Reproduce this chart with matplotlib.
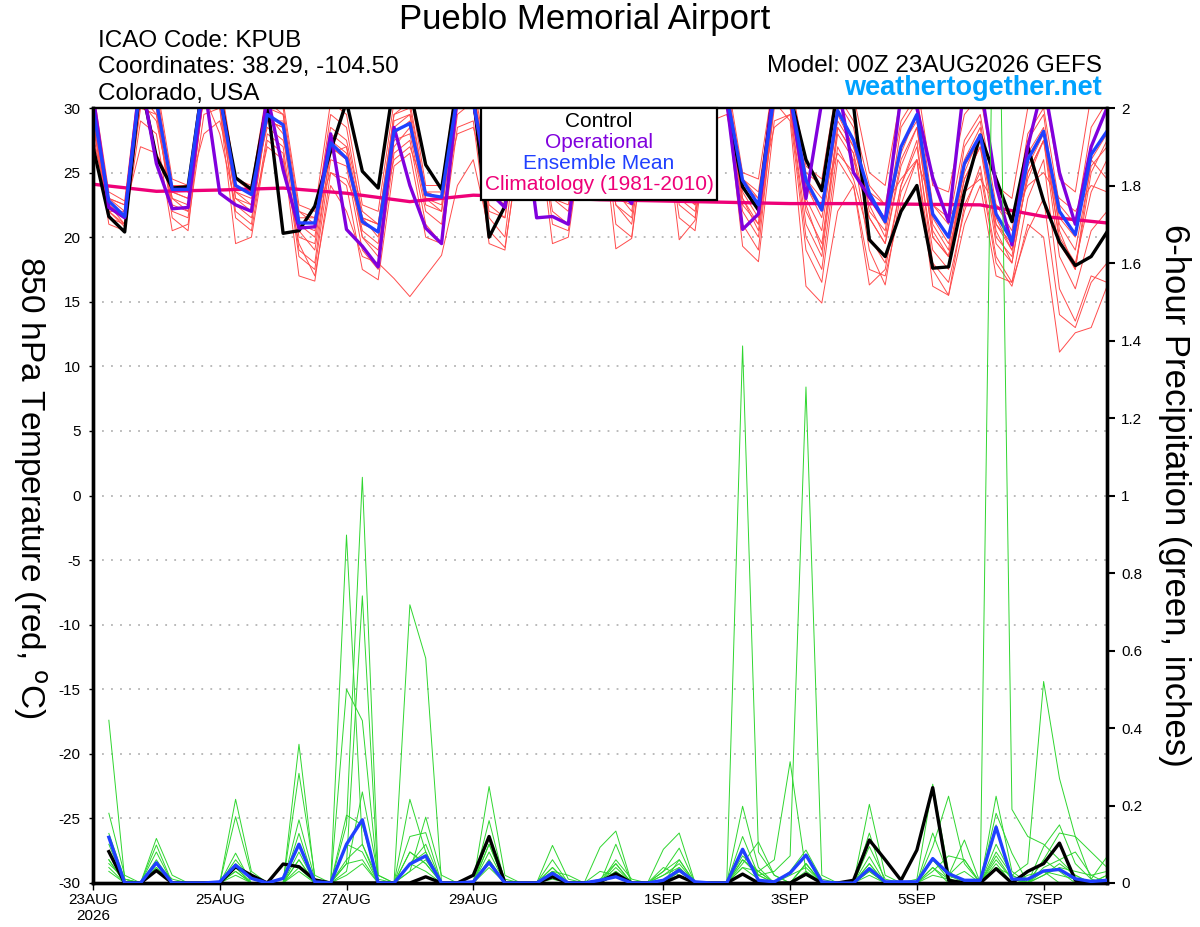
"""GEFS meteogram: 850 hPa temperature and 6-hour precipitation, Pueblo (KPUB)."""

import numpy as np
import matplotlib
matplotlib.use('Agg')  # no display
import matplotlib.pyplot as plt
from matplotlib.patches import Rectangle

plt.rcParams['font.family'] = ['Liberation Sans', 'DejaVu Sans']
plt.rcParams['axes.unicode_minus'] = False

# forecast hours from 00Z 23AUG2026
hours_t = np.arange(0, 385, 6)
hours_p = np.arange(6, 385, 6)
hours_clim = np.arange(0, 385, 24)

date_ticks = [0, 48, 96, 144, 216, 264, 312, 360]
date_labels = ['23AUG\n2026', '25AUG', '27AUG', '29AUG', '1SEP', '3SEP', '5SEP', '7SEP']

# 850 hPa temperature (C)
control_t = [27.0,
             21.6, 20.4, 32.0, 26.2, 23.8, 23.9, 32.5, 31.0,
             24.6, 23.7, 30.5, 20.3, 20.5, 22.4, 26.7, 30.5,
             25.1, 23.8, 32.0, 31.5, 25.6, 23.7, 32.0, 31.0,
             20.0, 22.4, 31.0, 32.0, 25.0, 24.5, 32.0, 31.5,
             25.5, 24.5, 32.0, 31.0, 25.0, 24.0, 31.0, 30.5,
             23.9, 22.1, 32.0, 31.0, 26.0, 23.6, 31.5, 30.2,
             19.8, 18.5, 22.0, 24.0, 17.6, 17.7, 23.5, 27.9,
             24.5, 21.2, 27.0, 22.8, 19.6, 17.8, 18.5, 20.4]
oper_t = [31.0,
          22.3, 21.5, 32.5, 25.7, 22.2, 22.3, 32.0, 23.4,
          22.5, 22.0, 31.0, 25.2, 20.7, 20.8, 28.0, 20.6,
          19.3, 17.7, 28.5, 24.0, 20.7, 19.5, 31.0, 30.5,
          23.5, 22.3, 31.0, 21.5, 21.6, 21.0, 30.5, 31.0,
          24.0, 22.6, 31.0, 31.0, 24.0, 23.5, 31.0, 30.5,
          20.6, 21.8, 32.0, 31.0, 23.0, 30.5, 32.0, 25.0,
          23.1, 21.3, 31.0, 30.0, 24.6, 21.2, 32.0, 32.0,
          24.0, 19.4, 27.0, 32.0, 25.0, 21.0, 27.0, 30.0]
mean_t = [30.0,
          22.8, 21.6, 32.0, 30.5, 23.7, 23.7, 32.5, 31.0,
          24.0, 23.3, 29.5, 28.7, 21.1, 21.1, 27.3, 26.1,
          21.2, 20.4, 28.2, 28.8, 23.3, 23.1, 31.0, 30.5,
          24.0, 23.6, 30.5, 31.0, 24.5, 24.0, 30.5, 31.0,
          24.5, 23.8, 30.5, 30.5, 24.5, 23.8, 30.5, 31.0,
          24.4, 22.5, 31.0, 31.0, 24.4, 22.1, 29.8, 27.5,
          23.4, 21.2, 27.0, 29.5, 21.8, 20.0, 25.7, 27.9,
          21.8, 19.7, 26.0, 28.2, 22.0, 20.2, 26.4, 28.2]
clim_t = [24.1, 23.55, 23.65, 23.8, 23.4, 22.75, 23.25, 23.1, 22.9,
          22.8, 22.7, 22.6, 22.6, 22.55, 22.5, 21.6, 21.1]

ens_t01 = [29.0,
           21.0, 20.5, 31.5, 30.0, 22.0, 21.5, 31.0, 30.5,
           21.5, 20.5, 28.0, 27.0, 18.5, 17.5, 26.0, 25.5,
           19.0, 17.5, 26.5, 27.5, 21.0, 19.5, 29.5, 30.5,
           21.5, 20.0, 30.0, 30.5, 21.0, 20.5, 29.0, 31.0,
           21.0, 20.0, 29.5, 30.0, 21.5, 20.5, 30.0, 30.5,
           21.0, 19.0, 30.5, 30.0, 20.0, 17.5, 27.0, 24.5,
           20.0, 18.0, 24.0, 27.5, 18.0, 16.5, 22.0, 25.5,
           18.5, 16.5, 23.0, 26.0, 16.0, 13.5, 17.0, 16.5]
ens_t02 = [31.5,
           23.5, 22.8, 33.0, 32.0, 24.5, 24.0, 33.5, 32.5,
           24.5, 24.0, 31.5, 30.5, 22.5, 22.0, 30.5, 29.5,
           22.5, 22.0, 30.5, 31.5, 24.0, 24.0, 32.5, 32.0,
           25.0, 24.5, 32.0, 32.5, 25.5, 25.0, 32.0, 32.5,
           25.5, 25.0, 32.5, 32.0, 25.5, 24.5, 32.0, 32.5,
           25.0, 24.5, 32.5, 32.5, 25.5, 24.5, 32.0, 31.0,
           25.0, 24.0, 31.0, 32.0, 24.0, 23.5, 29.5, 31.0,
           24.0, 23.0, 30.0, 31.5, 24.5, 23.5, 31.0, 31.5]
ens_t03 = [30.0,
           22.0, 21.0, 31.0, 29.5, 23.0, 22.5, 32.0, 30.5,
           23.0, 22.0, 29.0, 28.5, 20.0, 19.5, 27.5, 26.5,
           20.5, 19.5, 28.5, 29.5, 23.0, 22.0, 31.0, 30.0,
           23.5, 22.5, 30.5, 31.0, 23.5, 23.0, 31.0, 31.5,
           23.0, 22.5, 31.0, 31.0, 24.0, 23.0, 31.0, 31.5,
           23.5, 21.5, 31.5, 31.0, 23.0, 20.5, 29.5, 27.0,
           22.5, 20.0, 27.0, 29.0, 20.5, 18.5, 25.5, 27.5,
           20.5, 18.0, 25.0, 27.5, 21.0, 19.0, 25.5, 27.0]
ens_t04 = [28.5,
           22.5, 21.5, 30.5, 29.0, 23.0, 22.0, 31.0, 28.0,
           22.5, 21.5, 27.0, 26.0, 19.5, 17.0, 24.0, 22.0,
           18.5, 18.0, 16.8, 15.4, 17.0, 18.6, 24.0, 26.0,
           20.5, 19.2, 27.5, 29.5, 22.0, 21.0, 29.0, 30.5,
           22.5, 21.0, 29.5, 30.5, 23.0, 22.0, 30.5, 31.0,
           22.0, 20.0, 30.0, 30.0, 21.0, 18.5, 28.0, 26.0,
           21.5, 19.5, 26.0, 28.5, 20.0, 18.5, 24.5, 27.0,
           21.0, 19.0, 24.5, 27.5, 20.0, 18.0, 23.5, 26.0]
ens_t05 = [27.5,
           23.0, 22.0, 27.0, 26.5, 24.0, 23.5, 28.0, 29.0,
           24.0, 23.5, 28.5, 27.5, 22.0, 21.5, 25.0, 24.5,
           21.5, 21.0, 26.0, 27.0, 23.5, 23.0, 28.0, 28.5,
           24.0, 23.5, 28.5, 29.0, 24.5, 24.0, 28.0, 29.0,
           24.0, 23.5, 28.5, 29.5, 24.5, 23.5, 29.0, 29.5,
           24.0, 23.0, 28.5, 29.5, 24.5, 23.0, 26.5, 25.0,
           23.5, 22.5, 24.5, 26.0, 22.5, 21.5, 23.5, 24.5,
           22.5, 21.5, 24.0, 25.0, 23.0, 22.0, 24.0, 23.5]
ens_t06 = [30.5,
           22.5, 21.0, 32.0, 31.0, 23.5, 23.0, 32.0, 31.5,
           23.5, 22.5, 30.0, 29.5, 21.0, 20.0, 28.0, 27.0,
           21.5, 20.0, 29.0, 29.5, 23.0, 22.5, 31.5, 31.0,
           23.5, 23.0, 31.0, 31.5, 24.0, 23.0, 31.5, 31.5,
           24.0, 23.0, 31.0, 31.0, 24.0, 22.5, 31.0, 31.0,
           23.0, 21.0, 30.5, 29.0, 16.2, 14.9, 22.0, 24.0,
           16.3, 17.5, 24.0, 27.0, 19.0, 17.5, 26.0, 28.5,
           20.0, 18.5, 26.5, 28.5, 19.5, 17.5, 25.0, 27.5]
ens_t07 = [29.5,
           21.5, 21.0, 30.0, 29.5, 22.5, 22.0, 31.0, 30.0,
           22.0, 21.0, 29.5, 28.0, 19.0, 18.0, 27.0, 26.0,
           20.0, 18.5, 27.5, 28.0, 22.0, 21.0, 30.0, 30.0,
           22.5, 21.5, 29.5, 30.5, 23.0, 22.0, 30.0, 30.5,
           22.5, 21.5, 30.5, 30.5, 22.5, 21.5, 30.5, 31.0,
           22.5, 21.0, 31.0, 30.5, 22.0, 19.5, 28.5, 26.5,
           19.0, 16.3, 23.5, 26.0, 17.5, 15.5, 22.5, 25.0,
           18.0, 16.2, 21.0, 20.0, 11.1, 12.6, 13.0, 16.2]
ens_t08 = [31.0,
           23.0, 22.5, 32.5, 31.0, 24.0, 23.5, 33.0, 32.0,
           24.5, 23.5, 30.5, 29.5, 21.5, 21.5, 28.5, 27.5,
           22.0, 21.0, 29.5, 30.0, 23.5, 23.5, 32.0, 31.0,
           24.5, 24.0, 31.5, 32.0, 25.0, 24.5, 31.5, 32.0,
           25.0, 24.5, 31.5, 31.5, 25.0, 24.0, 31.5, 32.0,
           24.5, 23.5, 32.0, 31.5, 25.0, 24.0, 31.0, 29.0,
           24.0, 22.5, 29.0, 31.0, 22.5, 21.0, 27.5, 29.5,
           22.5, 20.5, 28.0, 30.0, 22.5, 21.0, 28.5, 30.5]
ens_t09 = [28.0,
           22.0, 20.8, 29.0, 28.0, 20.5, 21.0, 29.5, 30.0,
           19.5, 20.0, 27.5, 26.5, 17.0, 16.6, 25.0, 24.0,
           17.5, 16.7, 25.5, 26.5, 20.0, 19.5, 28.5, 29.0,
           19.5, 19.0, 28.0, 29.5, 19.5, 20.0, 28.5, 30.0,
           19.1, 19.9, 29.0, 30.0, 19.8, 21.3, 29.5, 30.5,
           19.3, 18.1, 29.0, 29.5, 19.0, 16.5, 26.0, 24.0,
           17.5, 17.0, 22.5, 26.0, 16.2, 15.5, 21.0, 24.0,
           17.0, 16.5, 20.5, 23.0, 14.0, 13.0, 16.5, 18.0]
ens_t10 = [30.0,
           22.5, 21.5, 31.5, 30.5, 23.5, 23.0, 32.5, 31.0,
           23.5, 23.0, 29.0, 28.5, 21.0, 20.5, 27.0, 26.0,
           21.0, 20.5, 28.0, 29.0, 23.0, 23.0, 30.5, 30.5,
           23.5, 23.0, 30.0, 31.0, 24.0, 23.5, 30.5, 31.0,
           24.0, 23.5, 30.0, 30.5, 24.0, 23.5, 30.5, 31.0,
           24.0, 22.0, 31.0, 30.5, 24.0, 21.5, 29.0, 27.0,
           23.0, 21.0, 26.5, 29.5, 21.5, 19.5, 25.0, 28.0,
           21.5, 19.0, 25.5, 28.0, 21.5, 20.0, 26.0, 28.0]
ens_t11 = [29.0,
           22.0, 22.0, 30.5, 30.0, 21.5, 20.5, 31.5, 30.5,
           23.0, 22.5, 29.0, 29.0, 20.5, 19.0, 26.5, 27.0,
           20.0, 19.0, 27.0, 28.5, 22.5, 22.0, 30.5, 30.5,
           22.0, 21.5, 30.0, 30.5, 23.0, 22.5, 30.5, 31.0,
           23.5, 22.0, 30.0, 30.5, 23.5, 22.5, 30.0, 30.5,
           23.0, 20.5, 30.5, 30.5, 22.5, 19.0, 28.5, 26.5,
           21.5, 19.5, 25.5, 28.5, 20.0, 18.5, 24.5, 27.0,
           19.5, 18.0, 25.0, 27.5, 18.5, 16.0, 20.5, 22.0]
ens_t12 = [30.5,
           23.0, 22.5, 31.5, 31.5, 24.0, 24.0, 32.0, 31.5,
           24.0, 23.5, 30.5, 30.0, 22.0, 21.0, 29.5, 28.5,
           21.5, 21.0, 29.5, 30.5, 23.5, 23.0, 31.0, 31.5,
           24.5, 23.5, 31.0, 31.5, 24.5, 24.0, 31.0, 31.5,
           24.5, 24.0, 31.0, 31.5, 25.0, 24.0, 31.5, 31.5,
           24.5, 23.0, 31.5, 31.5, 24.0, 22.0, 30.5, 28.5,
           22.0, 20.5, 28.5, 30.5, 21.0, 19.0, 27.0, 29.0,
           21.0, 19.5, 27.5, 29.5, 20.5, 17.5, 26.0, 24.5]

# 6-hour precipitation (inches), 06Z 23AUG .. 00Z 8SEP
prcp_ctrl = [0.081, 0, 0, 0.032, 0, 0, 0, 0,
             0.042, 0.02, 0, 0.049, 0.042, 0.008, 0, 0,
             0, 0, 0, 0, 0.016, 0, 0, 0.02,
             0.12, 0, 0, 0, 0.016, 0, 0, 0.003,
             0.024, 0, 0, 0, 0.018, 0, 0, 0,
             0.023, 0, 0, 0, 0.023, 0, 0, 0.007,
             0.111, 0.06, 0.007, 0.085, 0.246, 0.007, 0, 0,
             0.037, 0, 0.03, 0.05, 0.103, 0.007, 0, 0]
prcp_mean = [0.118, 0, 0, 0.052, 0, 0, 0, 0.003,
             0.046, 0.012, 0, 0.012, 0.10, 0.003, 0, 0.10,
             0.163, 0, 0, 0.049, 0.07, 0, 0, 0.003,
             0.053, 0, 0, 0, 0.025, 0, 0, 0.007,
             0.016, 0, 0, 0.007, 0.033, 0.003, 0, 0,
             0.087, 0.007, 0.003, 0.026, 0.072, 0.003, 0, 0,
             0.037, 0.003, 0.003, 0.003, 0.063, 0.024, 0.007, 0.007,
             0.144, 0.01, 0.01, 0.031, 0.035, 0.011, 0.004, 0.007]

ens_p01 = [0.42, 0.01, 0, 0.04, 0, 0, 0, 0,
           0.05, 0.01, 0, 0, 0.08, 0, 0, 0.15,
           1.047, 0.02, 0, 0.05, 0.08, 0, 0, 0,
           0.08, 0, 0, 0, 0.04, 0, 0, 0,
           0.05, 0, 0, 0, 0.04, 0, 0, 0,
           0.06, 0.02, 0, 0, 0.05, 0, 0, 0,
           0.05, 0, 0, 0, 0.06, 0.02, 0, 0,
           2.9, 0.19, 0.12, 0.10, 0.06, 0.02, 0, 0]
ens_p02 = [0.10, 0, 0, 0.05, 0, 0, 0, 0,
           0.04, 0, 0, 0, 0.358, 0.01, 0, 0.898,
           0.10, 0, 0, 0.08, 0.05, 0, 0, 0,
           0.10, 0, 0, 0, 0.02, 0, 0, 0.03,
           0.02, 0, 0, 0, 0.06, 0, 0, 0,
           1.386, 0.08, 0.02, 0, 0.05, 0, 0, 0,
           0.068, 0, 0, 0, 0.06, 0.01, 0, 0,
           0.08, 0.02, 0, 0.06, 0.03, 0, 0, 0.02]
ens_p03 = [0.06, 0, 0, 0.08, 0, 0, 0, 0,
           0.03, 0, 0, 0, 0.06, 0, 0, 0.05,
           0.741, 0, 0, 0.718, 0.58, 0, 0, 0,
           0.06, 0, 0, 0, 0.01, 0, 0, 0,
           0.03, 0, 0, 0.04, 0.02, 0, 0, 0,
           0.12, 0.02, 0.03, 0.07, 1.28, 0.02, 0, 0,
           0.03, 0, 0, 0, 0.04, 0, 0, 0,
           0.05, 0, 0.02, 0.03, 0, 0, 0, 0.01]
ens_p04 = [0.05, 0.01, 0, 0.03, 0, 0, 0, 0,
           0.02, 0, 0, 0, 0.04, 0, 0, 0.5,
           0.419, 0, 0, 0.12, 0.13, 0, 0, 0,
           0.04, 0, 0, 0, 0, 0, 0, 0,
           0.10, 0, 0, 0, 0.03, 0, 0, 0,
           0.08, 0.02, 0, 0, 0.02, 0, 0, 0,
           0.02, 0, 0, 0, 0.03, 0.07, 0.06, 0,
           0.04, 0.02, 0.05, 0.52, 0.27, 0.12, 0.08, 0.04]
ens_p05 = [0.04, 0, 0, 0.06, 0, 0, 0, 0,
           0.06, 0.01, 0, 0, 0.283, 0.02, 0, 0.05,
           0.06, 0, 0, 0.05, 0.03, 0, 0, 0,
           0.249, 0.02, 0, 0, 0.03, 0, 0, 0,
           0.04, 0, 0, 0.02, 0.05, 0, 0, 0,
           0.04, 0.03, 0.06, 0.313, 0.03, 0, 0, 0,
           0.05, 0, 0, 0.01, 0.255, 0.03, 0, 0,
           0.06, 0.01, 0, 0.02, 0.05, 0.02, 0, 0]
ens_p06 = [0.03, 0, 0, 0.05, 0.01, 0, 0, 0,
           0.216, 0.03, 0, 0, 0.03, 0, 0, 0.03,
           0.235, 0.02, 0, 0.216, 0.08, 0, 0, 0,
           0.05, 0, 0, 0, 0.06, 0, 0, 0.092,
           0.134, 0, 0, 0, 0.03, 0, 0, 0,
           0.05, 0.106, 0.02, 0, 0.02, 0, 0, 0,
           0.094, 0.01, 0, 0, 0.094, 0.224, 0.05, 0,
           0.224, 0.03, 0, 0.02, 0.04, 0.03, 0.02, 0]
ens_p07 = [0.18, 0.02, 0, 0.04, 0, 0, 0, 0,
           0.171, 0.02, 0, 0, 0.163, 0.01, 0, 0.02,
           0.05, 0, 0, 0.03, 0.17, 0.02, 0, 0,
           0.161, 0, 0, 0, 0.097, 0.01, 0, 0,
           0.02, 0, 0, 0.087, 0.129, 0, 0, 0,
           0.198, 0.04, 0, 0.02, 0.04, 0, 0, 0,
           0.203, 0.02, 0, 0, 0.129, 0.02, 0.111, 0,
           0.18, 0.077, 0, 0.094, 0.15, 0.05, 0.01, 0]
ens_p08 = [0.128, 0.01, 0, 0.115, 0.02, 0, 0, 0,
           0.077, 0, 0, 0, 0.128, 0, 0, 0.175,
           0.15, 0, 0, 0.05, 0.10, 0, 0, 0,
           0.12, 0.01, 0, 0, 0.03, 0.02, 0, 0,
           0.06, 0.01, 0, 0.03, 0.09, 0, 0, 0,
           0.07, 0.03, 0, 0.03, 0.085, 0.01, 0, 0,
           0.129, 0, 0, 0, 0.06, 0.02, 0.06, 0,
           0.15, 0.01, 0, 0.06, 0.129, 0.12, 0.01, 0.068]
ens_p09 = [0.08, 0, 0, 0.098, 0, 0, 0, 0,
           0.04, 0, 0, 0, 0.10, 0, 0, 0.06,
           0.10, 0.01, 0, 0.08, 0.05, 0, 0, 0,
           0.10, 0, 0, 0, 0.04, 0, 0, 0.01,
           0.05, 0, 0, 0.03, 0.06, 0, 0, 0,
           0.06, 0.03, 0, 0, 0.05, 0, 0, 0,
           0.03, 0, 0, 0, 0.04, 0.01, 0.03, 0,
           0.10, 0.02, 0, 0.04, 0.06, 0.08, 0.02, 0.03]
ens_p10 = [0.06, 0, 0, 0.05, 0, 0, 0, 0,
           0.03, 0, 0, 0, 0.06, 0, 0, 0.10,
           0.08, 0, 0, 0.03, 0.06, 0, 0, 0,
           0.06, 0, 0, 0, 0.02, 0, 0, 0,
           0.03, 0, 0, 0.02, 0.04, 0, 0, 0,
           0.04, 0.01, 0, 0, 0.03, 0, 0, 0,
           0.04, 0, 0, 0, 0.02, 0.01, 0, 0,
           0.07, 0.01, 0, 0.03, 0.02, 0.01, 0, 0.02]

ens_temp = [ens_t01, ens_t02, ens_t03, ens_t04, ens_t05, ens_t06,
            ens_t07, ens_t08, ens_t09, ens_t10, ens_t11, ens_t12]
ens_prcp = [ens_p01, ens_p02, ens_p03, ens_p04, ens_p05,
            ens_p06, ens_p07, ens_p08, ens_p09, ens_p10]

RED = '#ff4c4c'
GREEN = '#2fd62f'
PURPLE = '#8000dd'
BLUE = '#2040ff'
MAGENTA = '#ee0078'

fig = plt.figure(figsize=(12, 9.27), dpi=100)
ax = fig.add_axes([93 / 1200, 1 - 883 / 927, 1014 / 1200, 775 / 927])
ax2 = ax.twinx()

# temperature
for v in range(-25, 30, 5):
    ax.axhline(v, color='#b4b4b4', linestyle=(0, (1, 4)), linewidth=1.3, zorder=0)
for m in ens_temp:
    ax.plot(hours_t, m, color=RED, linewidth=0.7, zorder=1)
ax.plot(hours_clim, clim_t, color=MAGENTA, linewidth=2.4, zorder=2)
ax.plot(hours_t, control_t, color='black', linewidth=2.4, zorder=3)
ax.plot(hours_t, oper_t, color=PURPLE, linewidth=2.4, zorder=4)
ax.plot(hours_t, mean_t, color=BLUE, linewidth=2.4, zorder=5)

ax.set_xlim(0, 384)
ax.set_ylim(-30, 30)
ax.set_yticks(range(-30, 31, 5))
ax.set_yticklabels([str(v) for v in range(-30, 31, 5)])
ax.set_xticks(date_ticks)
ax.set_xticklabels(date_labels, linespacing=1.25)
ax.tick_params(axis='y', direction='out', length=3, width=1, labelsize=11, pad=6)
ax.tick_params(axis='x', direction='out', length=5, width=1, labelsize=11, pad=2)

# precipitation
for m in ens_prcp:
    ax2.plot(hours_p, m, color=GREEN, linewidth=0.7, zorder=1)
ax2.plot(hours_p, prcp_ctrl, color='black', linewidth=2.4, zorder=3)
ax2.plot(hours_p, prcp_mean, color=BLUE, linewidth=2.4, zorder=4)
ax2.set_ylim(0, 2)
ax2.set_yticks(np.arange(0, 2.01, 0.2))
ax2.set_yticklabels(['0', '0.2', '0.4', '0.6', '0.8', '1', '1.2', '1.4', '1.6', '1.8', '2'])
ax2.tick_params(axis='y', direction='out', length=6, width=1.5, labelsize=11, pad=4)

for a in (ax, ax2):
    for side in ('left', 'right', 'bottom'):
        a.spines[side].set_linewidth(2.4)
    a.spines['top'].set_linewidth(1.6)

# legend box
ax2.add_patch(Rectangle((0.3826, 0.881), 0.2328, 0.119, transform=ax2.transAxes,
                        facecolor='white', edgecolor='black', linewidth=1.6,
                        zorder=20, clip_on=False))
for label, color, yy in [('Control', 'black', 0.983),
                         ('Operational', PURPLE, 0.956),
                         ('Ensemble Mean', BLUE, 0.929),
                         ('Climatology (1981-2010)', MAGENTA, 0.901)]:
    ax2.text(0.499, yy, label, color=color, fontsize=15, ha='center', va='center',
             transform=ax2.transAxes, zorder=21)

# titles and axis labels
fig.text(585 / 1200, 1 - 29 / 927, 'Pueblo Memorial Airport', ha='center',
         va='baseline', fontsize=25)
fig.text(98 / 1200, 1 - 47 / 927, 'ICAO Code: KPUB', ha='left', va='baseline', fontsize=17.5)
fig.text(98 / 1200, 1 - 73 / 927, 'Coordinates: 38.29, -104.50', ha='left',
         va='baseline', fontsize=17.5)
fig.text(98 / 1200, 1 - 100 / 927, 'Colorado, USA', ha='left', va='baseline', fontsize=17.5)
fig.text(1102 / 1200, 1 - 72 / 927, 'Model: 00Z 23AUG2026 GEFS', ha='right',
         va='baseline', fontsize=17.5)
fig.text(1102 / 1200, 1 - 95 / 927, 'weathertogether.net', ha='right', va='baseline',
         fontsize=19.5, fontweight='bold', color='#00a2ff')
fig.text(30 / 1200, 1 - 487 / 927, '850 hPa Temperature (red, $^{\\mathrm{o}}$C)',
         rotation=270, ha='center', va='center', fontsize=24)
fig.text(1175 / 1200, 1 - 495 / 927, '6-hour Precipitation (green, inches)',
         rotation=270, ha='center', va='center', fontsize=25)

fig.savefig('out.png', dpi=100)
